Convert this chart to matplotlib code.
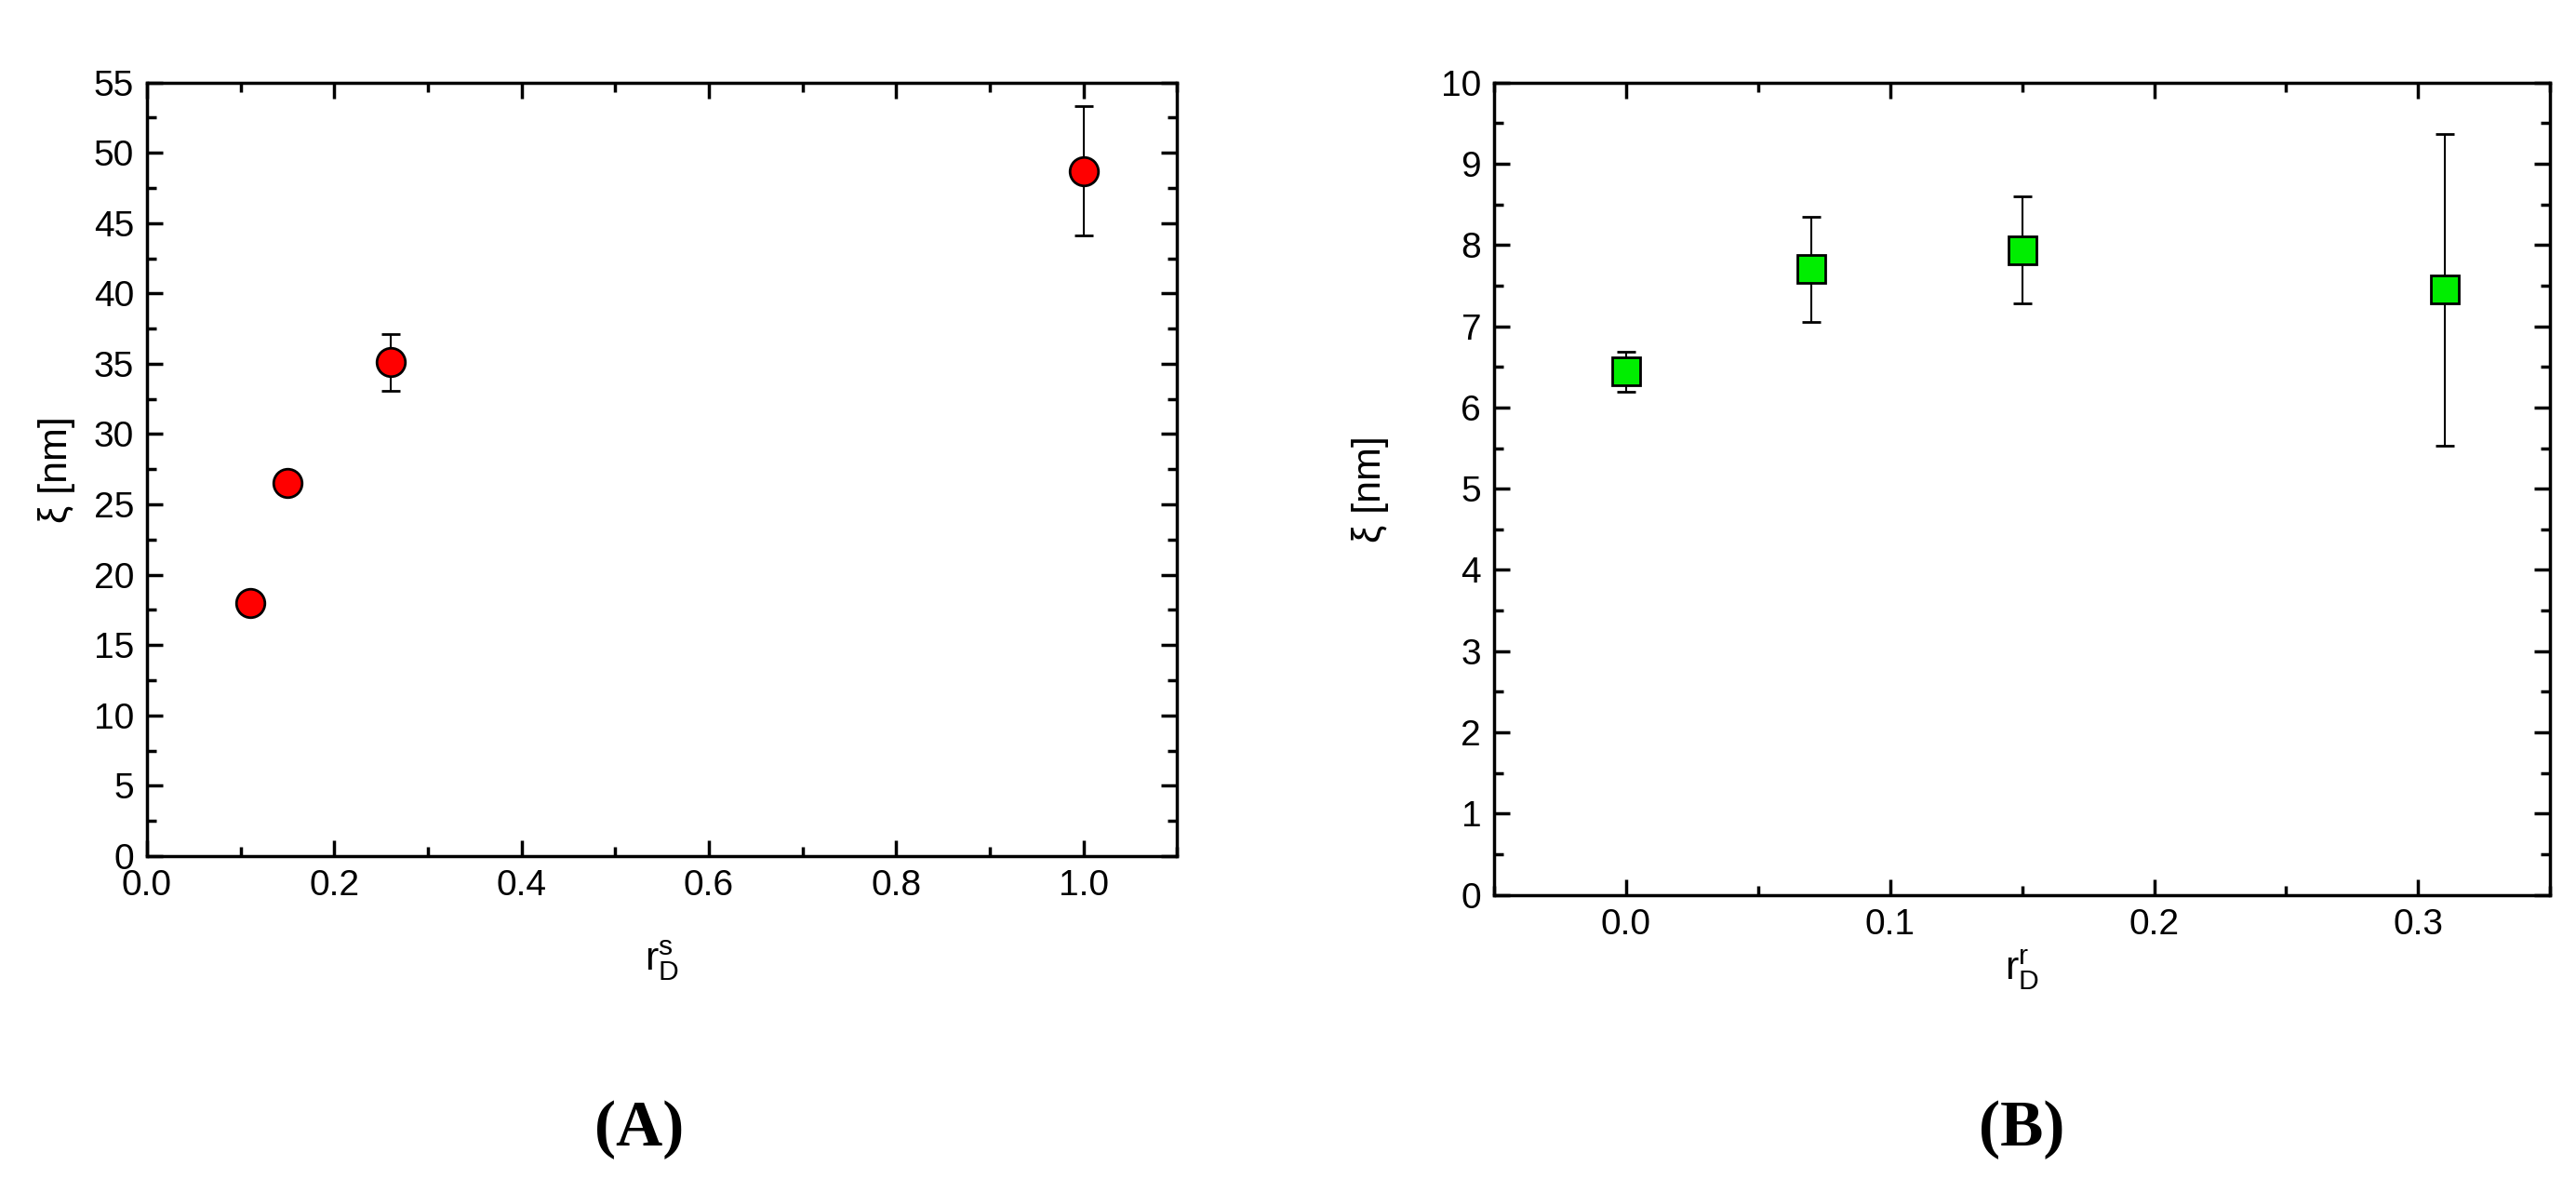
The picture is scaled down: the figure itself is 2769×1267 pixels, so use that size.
import matplotlib
matplotlib.use('Agg')
import matplotlib.pyplot as plt
from matplotlib.ticker import MultipleLocator

plt.rcParams['font.family'] = ['Liberation Sans', 'DejaVu Sans']
plt.rcParams['mathtext.fontset'] = 'custom'
plt.rcParams['mathtext.rm'] = 'Liberation Sans'
plt.rcParams['mathtext.it'] = 'Liberation Sans'

# panel A
rs = [0.11, 0.15, 0.26, 1.0]
xi_a = [18.0, 26.5, 35.1, 48.7]
err_a = [0.5, 0.7, 2.0, 4.6]
# panel B
rr = [0.0, 0.07, 0.15, 0.31]
xi_b = [6.44, 7.70, 7.94, 7.45]
err_b = [0.25, 0.65, 0.66, 1.92]

fig = plt.figure(figsize=(27.69, 12.67), dpi=100)
axA = fig.add_axes([0.057, 0.274, 0.400, 0.656])
axB = fig.add_axes([0.580, 0.241, 0.410, 0.689])

def style(ax, xmaj, xmin, ymaj, ymin):
    ax.xaxis.set_major_locator(MultipleLocator(xmaj))
    ax.xaxis.set_minor_locator(MultipleLocator(xmin))
    ax.yaxis.set_major_locator(MultipleLocator(ymaj))
    ax.yaxis.set_minor_locator(MultipleLocator(ymin))
    ax.tick_params(which='both', direction='in', top=True, right=True, width=2.5)
    ax.tick_params(which='major', length=12, labelsize=28, pad=10)
    ax.tick_params(which='minor', length=7)
    for s in ax.spines.values():
        s.set_linewidth(2.5)

axA.errorbar(rs, xi_a, yerr=err_a, fmt='o', color='black', mfc='red', mec='black',
             ms=22, mew=2, capsize=7, elinewidth=1.5, capthick=1.5)
axA.set_xlim(0, 1.1)
axA.set_ylim(0, 55)
style(axA, 0.2, 0.1, 5, 2.5)
axA.set_xlabel(r'r$_\mathregular{D}^\mathregular{s}$', fontsize=31, labelpad=28)
axA.set_ylabel('ξ [nm]', fontsize=31, labelpad=14)

axB.errorbar(rr, xi_b, yerr=err_b, fmt='s', color='black', mfc='#00ee00', mec='black',
             ms=22, mew=2, capsize=7, elinewidth=1.5, capthick=1.5)
axB.set_xlim(-0.05, 0.35)
axB.set_ylim(0, 10)
style(axB, 0.1, 0.05, 1, 0.5)
axB.set_xlabel(r'r$_\mathregular{D}^\mathregular{r}$', fontsize=31, labelpad=5)
axB.set_ylabel('ξ [nm]', fontsize=31, labelpad=40)

fig.text(0.248, 0.042, '(A)', ha='center', va='center', fontsize=50,
         fontweight='bold', family='Liberation Serif')
fig.text(0.785, 0.042, '(B)', ha='center', va='center', fontsize=50,
         fontweight='bold', family='Liberation Serif')

fig.savefig('out.png', dpi=100)
